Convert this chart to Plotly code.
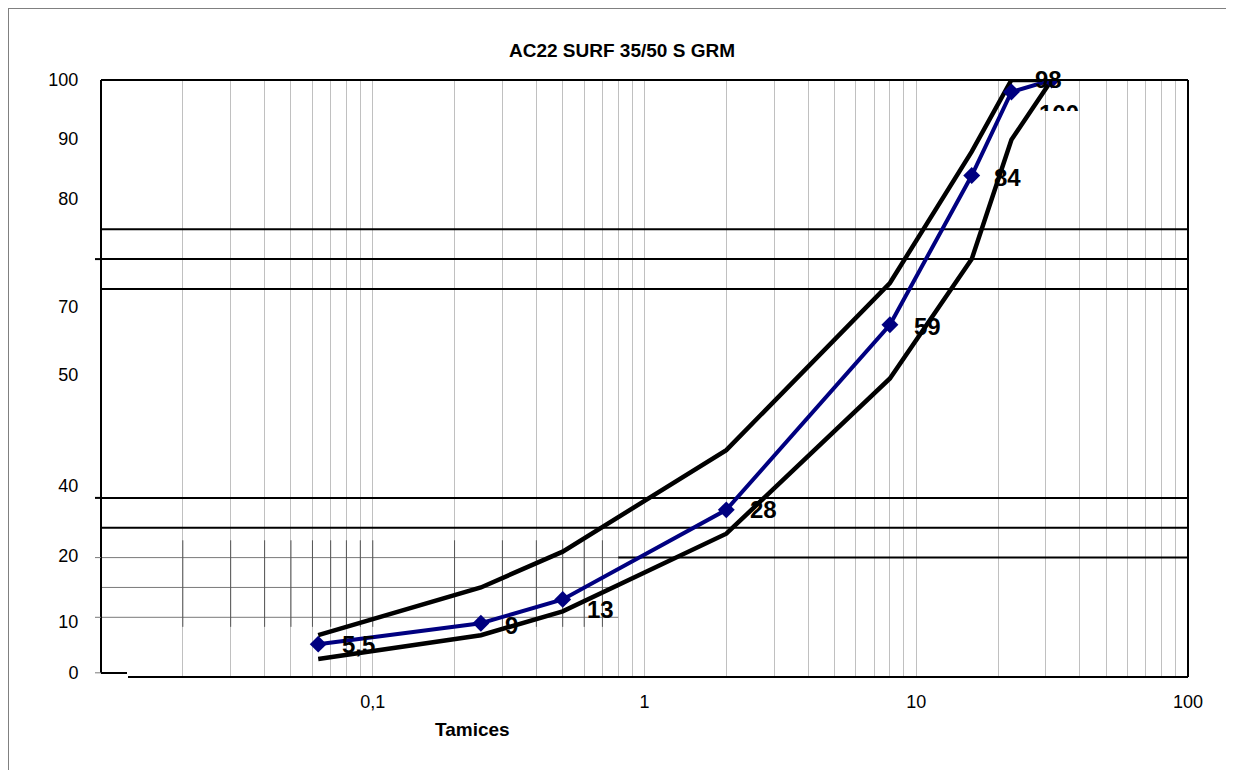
import numpy as np
import plotly.graph_objects as go

# ---------------- data ----------------
sieves = [0.063, 0.25, 0.5, 2, 8, 16, 22.4, 31.5]          # mm
passing = [5.5, 9, 13, 28, 59, 84, 98, 100]                  # % passing (sample)
upper_limit = [7, 15, 21, 38, 66, 88, 100, 100]              # spec upper envelope
lower_limit = [3, 7, 11, 24, 50, 70, 90, 100]                # spec lower envelope

x_tick_vals = [0.1, 1, 10, 100]
x_tick_text = ["0,1", "1", "10", "100"]
y_tick_text = ["0", "10", "20", "40", "50", "70", "80", "90", "100"]
y_tick_pos = [0.7, 9.2, 20.4, 32.0, 50.6, 62.0, 80.1, 90.1, 100]

ref_levels_full = [75, 70, 65, 30, 25]      # black horizontal lines, full width
ref_level_partial = 20                       # black line starting at 0.8 mm
box_levels = [10, 15, 20]                    # grey lines in lower-left block

title_text = "AC22 SURF 35/50 S GRM"
x_title = "Tamices"

# ---------------- geometry helpers ----------------
W, H = 1234, 770
OFF = 8                       # page body margin
PL, PR, PT, PB = 101, 1188, 80, 677   # plot area in page pixels
L = PL - OFF
T = PT - OFF
R = W - (PR - OFF)
B = H - (PB - OFF)
PW, PH = PR - PL, PB - PT


def px_x(px):
    return (px - PL) / PW


def px_y(py):
    return (PB - py) / PH


FONT = "Arial, Liberation Sans, sans-serif"

# all log grid positions (1..9 x decade)
grid_x = [m * 10.0 ** k for k in range(-2, 2) for m in range(1, 10)] + [100.0]
grid_text = []
for v in grid_x:
    lab = ""
    for tv, tt in zip(x_tick_vals, x_tick_text):
        if abs(v - tv) < 1e-9:
            lab = tt
    grid_text.append(lab)

fig = go.Figure()

# black horizontal reference lines
rx, ry = [], []
for lv in ref_levels_full:
    rx += [0.01, 100, None]
    ry += [lv, lv, None]
rx += [0.8, 100, None]
ry += [ref_level_partial, ref_level_partial, None]
fig.add_trace(go.Scatter(x=rx, y=ry, mode="lines", line=dict(color="black", width=2),
                         hoverinfo="skip", showlegend=False))

# grey block in the lower-left
hx, hy = [], []
for lv in box_levels:
    hx += [0.01, 0.8, None]
    hy += [lv, lv, None]
fig.add_trace(go.Scatter(x=hx, y=hy, mode="lines", line=dict(color="#7a7a7a", width=1),
                         hoverinfo="skip", showlegend=False))
vx, vy = [], []
for gx in grid_x:
    if 0.01 < gx < 0.75:
        vx += [gx, gx, None]
        vy += [8.4, 22.9, None]
fig.add_trace(go.Scatter(x=vx, y=vy, mode="lines", line=dict(color="#555555", width=1),
                         hoverinfo="skip", showlegend=False))

# envelopes
fig.add_trace(go.Scatter(x=sieves, y=upper_limit, mode="lines",
                         line=dict(color="black", width=4.5), showlegend=False))
fig.add_trace(go.Scatter(x=sieves, y=lower_limit, mode="lines",
                         line=dict(color="black", width=4.5), showlegend=False))
# sample curve
fig.add_trace(go.Scatter(x=sieves, y=passing, mode="lines+markers",
                         line=dict(color="#000080", width=4),
                         marker=dict(symbol="diamond", size=13, color="#000080"),
                         showlegend=False))

# data labels
label_shift = [(22, 0), (22, -2), (22, -10), (22, 0), (22, -2), (20, -2), (22, 12), (-15, -18)]
for i, (s, p) in enumerate(zip(sieves, passing)):
    txt = ("%g" % p).replace(".", ",")
    dx, dy = label_shift[i]
    ann = dict(x=np.log10(s), y=p, xref="x", yref="y", text="<b>%s</b>" % txt,
               showarrow=False, xanchor="left", yanchor="middle", xshift=dx, yshift=dy,
               font=dict(family=FONT, size=24, color="black"))
    if i == len(sieves) - 1:
        ann.update(yanchor="top", height=11, valign="top")
    fig.add_annotation(**ann)

# x-axis title
fig.add_annotation(x=px_x(472), y=px_y(730), xref="paper", yref="paper",
                   text="<b>%s</b>" % x_title, showarrow=False, xanchor="center", yanchor="middle",
                   font=dict(family=FONT, size=19, color="black"))

# frame and decorations
shapes = [
    # outer thin border (top & left visible)
    dict(type="line", xref="paper", yref="paper", x0=px_x(OFF), x1=px_x(W + 20), y0=px_y(OFF), y1=px_y(OFF),
         line=dict(color="#808080", width=2)),
    dict(type="line", xref="paper", yref="paper", x0=px_x(OFF), x1=px_x(OFF), y0=px_y(OFF), y1=px_y(H + 20),
         line=dict(color="#808080", width=2)),
    # plot frame
    dict(type="line", xref="paper", yref="paper", x0=0, x1=1, y0=1, y1=1, line=dict(color="black", width=2)),
    dict(type="line", xref="paper", yref="paper", x0=1, x1=1, y0=0, y1=1, line=dict(color="black", width=2)),
    dict(type="line", xref="paper", yref="paper", x0=0, x1=0, y0=px_y(673), y1=1, line=dict(color="black", width=2)),
    dict(type="line", xref="paper", yref="paper", x0=0, x1=px_x(127), y0=px_y(673), y1=px_y(673),
         line=dict(color="black", width=2)),
    dict(type="line", xref="paper", yref="paper", x0=px_x(128), x1=1, y0=0, y1=0, line=dict(color="black", width=2)),
    # little tick stubs to the left
    dict(type="line", xref="paper", yref="y", x0=px_x(95), x1=0, y0=70, y1=70, line=dict(color="black", width=2)),
    dict(type="line", xref="paper", yref="y", x0=px_x(95), x1=0, y0=30, y1=30, line=dict(color="black", width=2)),
    dict(type="line", xref="paper", yref="y", x0=px_x(95), x1=0, y0=20, y1=20, line=dict(color="#7a7a7a", width=1)),
    dict(type="line", xref="paper", yref="y", x0=px_x(95), x1=0, y0=10, y1=10, line=dict(color="#7a7a7a", width=1)),
    dict(type="line", xref="paper", yref="y", x0=px_x(95), x1=0, y0=0.7, y1=0.7, line=dict(color="#7a7a7a", width=1)),
]
fig.update_layout(shapes=shapes)

fig.update_layout(
    width=W, height=H,
    margin=dict(l=L, r=R, t=T, b=B),
    paper_bgcolor="white", plot_bgcolor="white",
    title=dict(text="<b>%s</b>" % title_text, x=(622 - OFF) / W, xanchor="center",
               y=1 - (50 - OFF) / H, yanchor="middle",
               font=dict(family=FONT, size=19, color="black")),
    font=dict(family=FONT, color="black"),
    xaxis=dict(type="log", range=[-2, 2], tickmode="array", tickvals=grid_x, ticktext=grid_text,
               showgrid=True, gridcolor="#c0c0c0", gridwidth=1, zeroline=False, showline=False,
               ticks="outside", ticklen=8, tickcolor="rgba(0,0,0,0)",
               tickfont=dict(family=FONT, size=18, color="black")),
    yaxis=dict(range=[0, 100], tickmode="array", tickvals=y_tick_pos, ticktext=y_tick_text,
               showgrid=False, zeroline=False, showline=False,
               ticks="outside", ticklen=18, tickcolor="rgba(0,0,0,0)",
               tickfont=dict(family=FONT, size=18, color="black")),
)

fig.write_html("out.html")
